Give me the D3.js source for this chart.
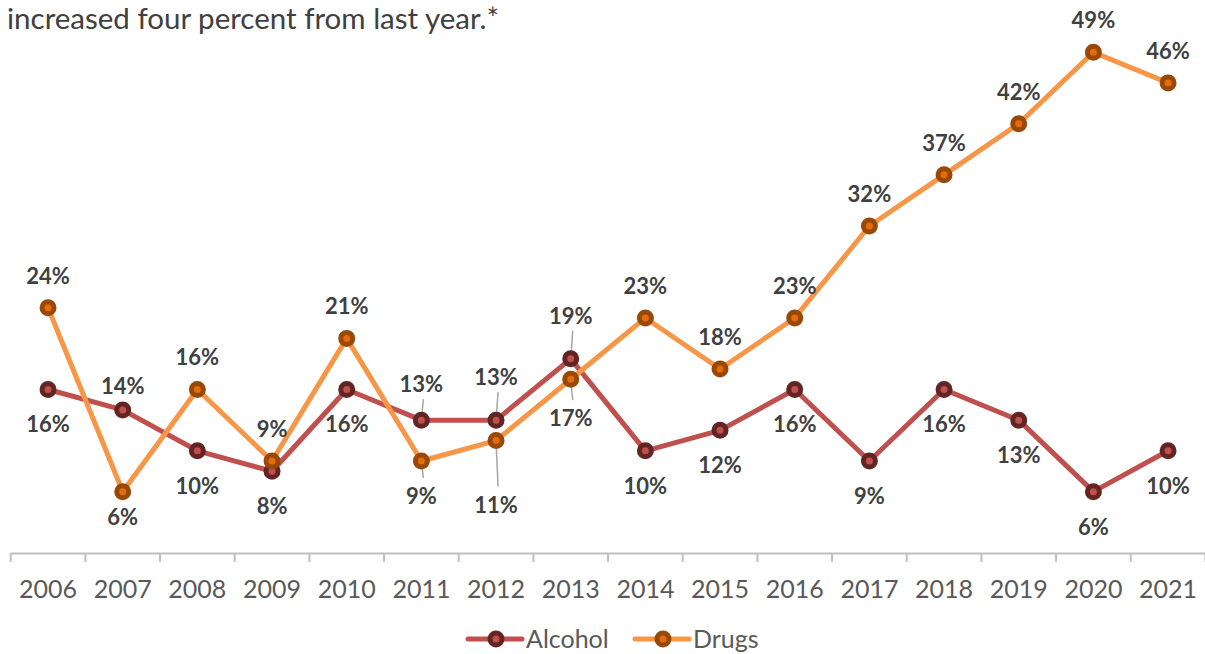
<!DOCTYPE html>
<html>
<head>
<meta charset="utf-8">
<script src="https://cdn.jsdelivr.net/npm/d3@7"></script>
<style>
  html, body { margin: 0; padding: 0; background: #fff; }
  svg { display: block; }
</style>
</head>
<body>
<script>
// Share of cases involving alcohol vs. drugs, by year
const years = ["2006","2007","2008","2009","2010","2011","2012","2013","2014","2015","2016","2017","2018","2019","2020","2021"];
const alcohol = [16, 14, 10, 8, 16, 13, 13, 19, 10, 12, 16, 9, 16, 13, 6, 10];
const drugs   = [24, 6, 16, 9, 21, 9, 11, 17, 23, 18, 23, 32, 37, 42, 49, 46];
const seriesNames = ["Alcohol", "Drugs"];
const titleText = "increased four percent from last year.*";

// Label placement per point: side (-1 above, +1 below), extra gap, leader line flag
const alcoholLabelSide = [1,-1,1,1,1,-1,-1,-1,1,1,1,1,1,1,1,1];
const drugsLabelSide   = [-1,1,-1,-1,-1,1,1,1,-1,-1,-1,-1,-1,-1,-1,-1];
const alcoholLabelGap  = [0,-8,0,0,0,4,11,11,0,0,0,0,0,0,0,0];
const drugsLabelGap    = [0,-10,0,0,0,0,29,4,0,0,0,0,0,0,0,0];
const alcoholLeader    = [0,0,0,0,0,1,1,1,0,0,0,0,0,0,0,0];
const drugsLeader      = [0,0,0,0,0,1,1,1,0,0,0,0,0,0,0,0];

const W = 1205, H = 654;
const FONT = "Lato, 'Open Sans', sans-serif";

const svg = d3.select("body").append("svg")
  .attr("width", W).attr("height", H);

const x = d3.scaleBand().domain(years).range([10.7, 1205.4]).padding(0);
const y = d3.scaleLinear().domain([0, 50]).range([553, 42]);
const cx = d => x(d) + x.bandwidth() / 2;

// Title fragment
svg.append("text")
  .attr("x", 7).attr("y", 29)
  .attr("font-family", FONT).attr("font-size", 29.5)
  .attr("fill", "#404040")
  .text(titleText);

// X axis
const xAxis = d3.axisBottom(x).tickSize(9).tickSizeOuter(0).tickPadding(18);
const gx = svg.append("g").attr("transform", `translate(0,${y(0)})`).call(xAxis);
gx.select(".domain").attr("stroke", "#bfbfbf").attr("stroke-width", 2);
gx.selectAll(".tick line").remove();
gx.selectAll(".tick text")
  .attr("font-family", FONT).attr("font-size", 25)
  .attr("fill", "#595959");
// boundary ticks between categories
svg.append("g").selectAll("line")
  .data(years.concat(["end"]))
  .join("line")
  .attr("x1", (d, i) => x.range()[0] + i * x.step())
  .attr("x2", (d, i) => x.range()[0] + i * x.step())
  .attr("y1", y(0)).attr("y2", y(0) + 9)
  .attr("stroke", "#bfbfbf").attr("stroke-width", 2);

const series = [
  { name: seriesNames[0], values: alcohol, line: "#C0504D", ring: "#632523", dot: "#C0504D",
    side: alcoholLabelSide, gap: alcoholLabelGap, leader: alcoholLeader },
  { name: seriesNames[1], values: drugs, line: "#F79646", ring: "#984807", dot: "#E46C0A",
    side: drugsLabelSide, gap: drugsLabelGap, leader: drugsLeader }
];

const line = d3.line().x((d, i) => cx(years[i])).y(d => y(d));

series.forEach(s => {
  svg.append("path")
    .datum(s.values)
    .attr("d", line)
    .attr("fill", "none")
    .attr("stroke", s.line)
    .attr("stroke-width", 5)
    .attr("stroke-linejoin", "round");
});

// leader lines drawn under markers
series.forEach(s => {
  svg.append("g").selectAll("line")
    .data(s.values.map((v, i) => ({ v, i })).filter(d => s.leader[d.i]))
    .join("line")
    .attr("x1", d => cx(years[d.i]))
    .attr("y1", d => y(d.v))
    .attr("x2", d => cx(years[d.i]) + 2)
    .attr("y2", d => y(d.v) + s.side[d.i] * (17 + s.gap[d.i]))
    .attr("stroke", "#a6a6a6").attr("stroke-width", 1.5);
});

series.forEach(s => {
  const g = svg.append("g");
  g.selectAll("circle.ring")
    .data(s.values)
    .join("circle")
    .attr("class", "ring")
    .attr("cx", (d, i) => cx(years[i]))
    .attr("cy", d => y(d))
    .attr("r", 6)
    .attr("fill", s.dot)
    .attr("stroke", s.ring)
    .attr("stroke-width", 5);
});

series.forEach(s => {
  svg.append("g").selectAll("text")
    .data(s.values)
    .join("text")
    .attr("x", (d, i) => cx(years[i]))
    .attr("y", (d, i) => y(d) + (s.side[i] < 0 ? -24 - s.gap[i] : 43 + s.gap[i]))
    .attr("text-anchor", "middle")
    .attr("font-family", FONT).attr("font-size", 22).attr("font-weight", 700)
    .attr("fill", "#404040")
    .text(d => d + "%");
});

// Legend
const legendX = [468, 635];
const legend = svg.append("g");
series.forEach((s, i) => {
  const g = legend.append("g").attr("transform", `translate(${legendX[i]},639)`);
  g.append("line").attr("x1", 0).attr("x2", 54).attr("y1", 0).attr("y2", 0)
    .attr("stroke", s.line).attr("stroke-width", 5).attr("stroke-linecap", "round");
  g.append("circle").attr("cx", 28).attr("cy", 0).attr("r", 6)
    .attr("fill", s.dot).attr("stroke", s.ring).attr("stroke-width", 5);
  g.append("text").attr("x", 58).attr("y", 9)
    .attr("font-family", FONT).attr("font-size", 25)
    .attr("fill", "#595959").text(s.name);
});
</script>
</body>
</html>
